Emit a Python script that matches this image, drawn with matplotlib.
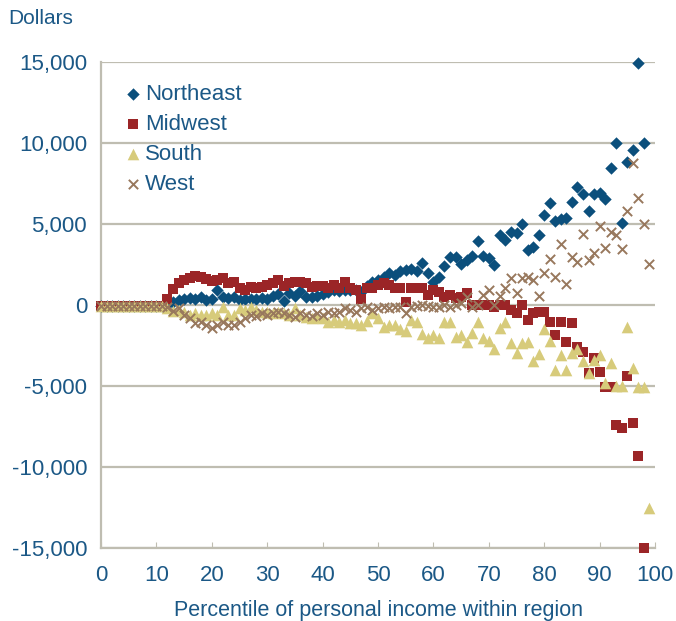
import numpy as np
import matplotlib.pyplot as plt
from matplotlib.ticker import FuncFormatter

plt.rcParams["font.family"] = ["Liberation Sans", "DejaVu Sans"]

# percentiles 0..99
percentile = np.arange(0, 100)

northeast = np.array([
    -50, -50, -50, -50, -50, -50, -50, -50, -50, -50,
    -50, -50, 0, 200, 300, 350, 450, 350, 500, 300,
    400, 950, 500, 450, 500, 300, 350, 400, 350, 450,
    400, 550, 650, 250, 750, 550, 850, 500, 500, 550,
    700, 800, 900, 850, 900, 950, 900, 800, 1200, 1400,
    1550, 1750, 2000, 1850, 2100, 2150, 2200, 2100, 2600, 2000,
    1400, 1700, 2400, 2950, 2950, 2550, 2750, 3000, 3950, 3000,
    2900, 2450, 4300, 4000, 4500, 4450, 5000, 3400, 3600, 4300,
    5550, 6300, 5200, 5300, 5350, 6350, 7300, 6850, 5800, 6850,
    6900, 6550, 8450, 10000, 5050, 8800, 9550, 14950, 10000, np.nan,
])

midwest = np.array([
    -50, -50, -50, -50, -50, -50, -50, -50, -50, -50,
    -50, -50, 400, 1000, 1350, 1550, 1650, 1800, 1700, 1600,
    1500, 1550, 1650, 1350, 1400, 1050, 950, 1100, 1050, 1100,
    1250, 1350, 1550, 1150, 1350, 1400, 1400, 1350, 1100, 1150,
    1150, 1050, 1250, 1050, 1400, 1050, 950, 400, 1050, 1050,
    1250, 1350, 1250, 1050, 1050, 200, 1050, 1050, 1050, 600,
    900, 800, 500, 600, 450, 500, 750, 0, 0, 0,
    0, -100, 0, 0, -300, -500, 0, -900, -500, -450,
    -450, -1050, -1850, -1050, -2300, -1100, -2600, -2900, -4200, -3300,
    -4150, -5050, -5050, -7400, -7600, -4400, -7300, -9300, -15000, np.nan,
])

south = np.array([
    -50, -50, -50, -50, -50, -50, -50, -50, -50, -50,
    -50, -50, -200, -400, -300, -450, -600, -500, -600, -600,
    -500, -600, -150, -600, -600, -200, -300, -150, -300, -450,
    -450, -500, -450, -500, -600, -200, -600, -750, -800, -750,
    -800, -1050, -950, -1050, -950, -1100, -1100, -1250, -1000, -500,
    -800, -1350, -1250, -1250, -1500, -1600, -950, -1050, -1800, -2050,
    -1850, -2050, -1050, -1050, -1950, -1850, -2300, -1750, -1050, -2050,
    -2200, -2700, -1400, -1050, -2350, -2950, -2350, -2300, -3450, -3000,
    -1500, -2200, -4000, -3100, -4000, -2950, -2700, -3450, -4200, -3400,
    -3100, -4800, -3600, -5000, -5000, -1350, -3900, -5050, -5050, -12500,
])

west = np.array([
    -50, -50, -50, -50, -50, -50, -50, -50, -50, -50,
    -50, -50, -100, -400, -200, -600, -800, -1100, -1050, -1250,
    -1450, -1250, -1050, -1250, -1250, -1050, -800, -600, -650, -500,
    -600, -500, -430, -500, -600, -750, -500, -600, -700, -500,
    -600, -450, -500, -450, -200, -300, -450, -200, -100, -300,
    -200, -100, -200, -100, -150, -500, -100, -50, 0, -50,
    -100, -100, 0, -100, 0, 100, 500, -100, 0, 600,
    900, 0, 550, 1050, 1650, 750, 1650, 1750, 1550, 550,
    2000, 2850, 1700, 3750, 1300, 2950, 2650, 4400, 2800, 3200,
    4900, 3500, 4500, 4300, 3450, 5800, 8750, 6600, 5000, 2550,
])

TXT = "#1B5886"
GRID = "#BFBDB1"

fig = plt.figure(figsize=(6.76, 6.21), dpi=100)
ax = fig.add_axes([101 / 676, 1 - 548 / 621, 554 / 676, 486 / 621])

ax.scatter(percentile, northeast, marker="D", s=40, color="#0B4F7C", linewidths=0, label="Northeast", clip_on=False, zorder=3)
ax.scatter(percentile, midwest, marker="s", s=55, color="#9B2527", linewidths=0, label="Midwest", clip_on=False, zorder=3)
ax.scatter(percentile, south, marker="^", s=70, color="#D7CB7B", linewidths=0, label="South", clip_on=False, zorder=3)
ax.scatter(percentile, west, marker="x", s=45, color="#98785D", linewidths=1.4, label="West", clip_on=False, zorder=3)

ax.set_xlim(0, 100)
ax.set_ylim(-15000, 15000)
ax.set_xticks(range(0, 101, 10))
ax.set_yticks(range(-15000, 15001, 5000))
ax.yaxis.set_major_formatter(FuncFormatter(lambda v, p: f"{int(v):,}"))

ax.yaxis.grid(True, color=GRID, linewidth=1.6)
ax.set_axisbelow(True)
for side in ["top", "right"]:
    ax.spines[side].set_visible(False)
for side in ["left", "bottom"]:
    ax.spines[side].set_color(GRID)
    ax.spines[side].set_linewidth(1.6)

ax.tick_params(axis="y", length=0, pad=10, labelsize=16, labelcolor=TXT)
ax.tick_params(axis="x", direction="in", length=4, color=GRID, pad=12, labelsize=16, labelcolor=TXT)

ax.set_xlabel("Percentile of personal income within region", fontsize=15.5, color=TXT, labelpad=10)
fig.text(8 / 676, 1 - 18 / 621, "Dollars", fontsize=15, color=TXT, ha="left", va="center")

leg = ax.legend(loc="upper left", bbox_to_anchor=(0.0235, 0.973), frameon=False, fontsize=16,
                handletextpad=0.1, labelspacing=0.4, borderaxespad=0, handlelength=0.9)
for t in leg.get_texts():
    t.set_color(TXT)

fig.savefig("out.png", dpi=100)
